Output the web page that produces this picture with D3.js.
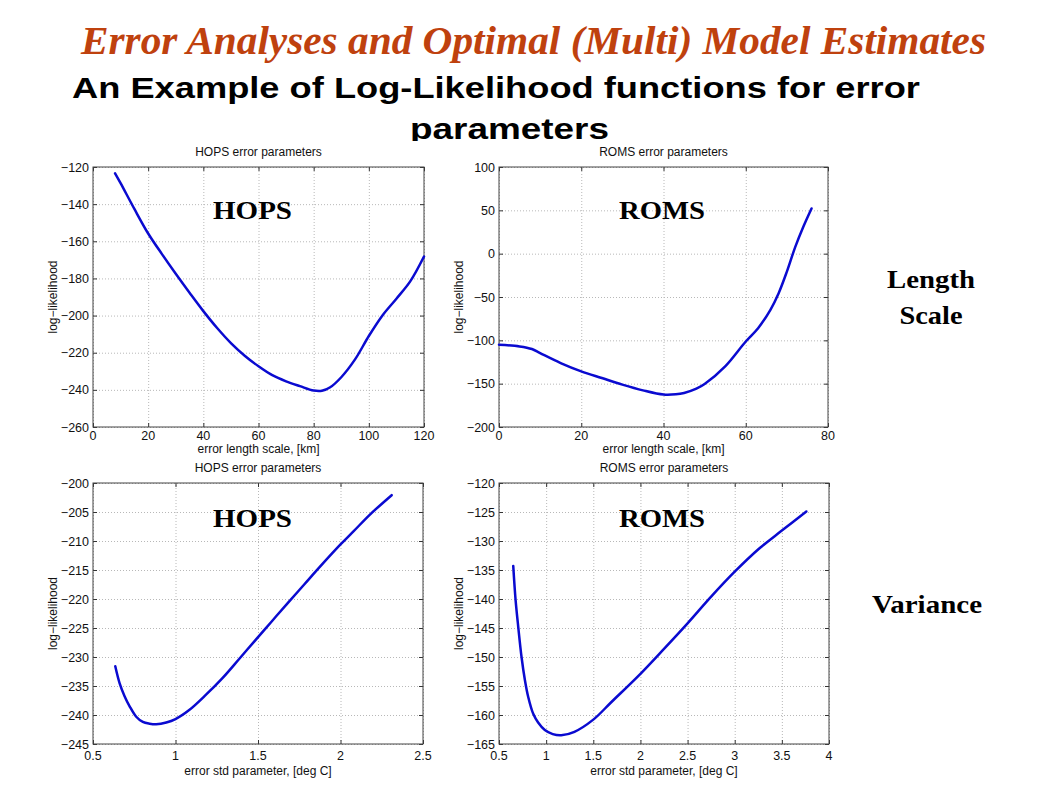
<!DOCTYPE html>
<html>
<head>
<meta charset="utf-8">
<script src="https://cdn.jsdelivr.net/npm/d3@7"></script>
<style>
  html, body { margin: 0; padding: 0; background: #fff; }
  svg { display: block; }
</style>
</head>
<body>
<svg id="chart" width="1058" height="794"></svg>
<script>
// ---------------- DATA ----------------
const hopsLenX = [8, 10, 15, 20, 25, 30, 35, 40, 45, 50, 55, 60, 65, 70, 75, 80, 83, 86, 90, 95, 100, 105, 110, 115, 120];
const hopsLenY = [-123.4, -128.7, -142.6, -155.8, -166.9, -177.5, -187.7, -197.6, -206.7, -214.8, -221.6, -227.3, -232.1, -235.4, -238, -240.4, -240.5, -238.6, -233.2, -223.6, -211.0, -199.8, -190.9, -181.6, -168.2];

const romsLenX = [0, 5, 8, 10, 15, 20, 25, 30, 35, 40, 43, 45, 48, 50, 55, 60, 63, 66, 68, 70, 72, 74, 76];
const romsLenY = [-105.1, -107, -110, -114.7, -126.2, -135.8, -143.5, -151.1, -157.7, -162.6, -162.3, -160.7, -155.7, -150.4, -130, -101.3, -86, -64.8, -45.6, -20.7, 7.3, 31.1, 52.2];

const hopsVarX = [0.635, 0.661, 0.692, 0.722, 0.762, 0.802, 0.843, 0.883, 0.944, 1.0, 1.085, 1.185, 1.286, 1.387, 1.478, 1.579, 1.68, 1.78, 1.88, 2.0, 2.08, 2.18, 2.31];
const hopsVarY = [-231.6, -234.5, -236.8, -238.5, -240.3, -241.2, -241.5, -241.6, -241.3, -240.7, -239.1, -236.5, -233.6, -230.3, -227.3, -224.0, -220.7, -217.5, -214.3, -210.6, -208.3, -205.4, -202.1];

const romsVarX = [0.651, 0.676, 0.704, 0.739, 0.775, 0.81, 0.863, 0.915, 0.986, 1.07, 1.16, 1.30, 1.5, 1.69, 2.0, 2.25, 2.5, 2.75, 3.0, 3.26, 3.5, 3.76];
const romsVarY = [-134.3, -140.2, -144.8, -150, -154, -156.9, -159.8, -161.3, -162.6, -163.3, -163.5, -162.9, -160.8, -157.8, -152.9, -148.6, -144.2, -139.6, -135.3, -131.3, -128.2, -124.9];

const hopsLenXTicks = [0, 20, 40, 60, 80, 100, 120];
const hopsLenYTicks = [-260, -240, -220, -200, -180, -160, -140, -120];
const romsLenXTicks = [0, 20, 40, 60, 80];
const romsLenYTicks = [-200, -150, -100, -50, 0, 50, 100];
const hopsVarXTicks = [0.5, 1, 1.5, 2, 2.5];
const hopsVarYTicks = [-245, -240, -235, -230, -225, -220, -215, -210, -205, -200];
const romsVarXTicks = [0.5, 1, 1.5, 2, 2.5, 3, 3.5, 4];
const romsVarYTicks = [-165, -160, -155, -150, -145, -140, -135, -130, -125, -120];

const panelTitles = ["HOPS error parameters", "ROMS error parameters", "HOPS error parameters", "ROMS error parameters"];
const modelLabels = ["HOPS", "ROMS", "HOPS", "ROMS"];
const xLabels = ["error length scale, [km]", "error length scale, [km]", "error std parameter, [deg C]", "error std parameter, [deg C]"];
const yLabel = "log\u2212likelihood";

const mainTitle = "Error Analyses and Optimal (Multi) Model Estimates";
const subTitle1 = "An Example of Log-Likelihood functions for error";
const subTitle2 = "parameters";
const rowLabels = [["Length", "Scale"], ["Variance"]];

// ---------------- LAYOUT ----------------
const panels = [
  { x: hopsLenX, y: hopsLenY, xt: hopsLenXTicks, yt: hopsLenYTicks, box: [93, 167, 424, 427], tickOff: 13, labOff: 26 },
  { x: romsLenX, y: romsLenY, xt: romsLenXTicks, yt: romsLenYTicks, box: [499, 167, 828, 427], tickOff: 13, labOff: 26 },
  { x: hopsVarX, y: hopsVarY, xt: hopsVarXTicks, yt: hopsVarYTicks, box: [93, 483, 423, 744], tickOff: 16, labOff: 31 },
  { x: romsVarX, y: romsVarY, xt: romsVarXTicks, yt: romsVarYTicks, box: [499, 483, 829, 744], tickOff: 16, labOff: 31 }
];

const svg = d3.select("#chart");
const fmt = v => String(v).replace("-", "\u2212");

// Headings
svg.append("text")
  .attr("x", 81).attr("y", 54)
  .attr("textLength", 905).attr("lengthAdjust", "spacingAndGlyphs")
  .style("font-family", "'Liberation Serif', 'Times New Roman', serif")
  .style("font-weight", "bold").style("font-style", "italic")
  .style("font-size", "39px").style("fill", "#bf410e")
  .text(mainTitle);

svg.append("text")
  .attr("x", 72).attr("y", 98)
  .attr("textLength", 848).attr("lengthAdjust", "spacingAndGlyphs")
  .style("font-family", "'Liberation Sans', Arial, sans-serif")
  .style("font-weight", "bold").style("font-size", "30px").style("fill", "#000")
  .text(subTitle1);

svg.append("text")
  .attr("x", 410).attr("y", 139)
  .attr("textLength", 199).attr("lengthAdjust", "spacingAndGlyphs")
  .style("font-family", "'Liberation Sans', Arial, sans-serif")
  .style("font-weight", "bold").style("font-size", "30px").style("fill", "#000")
  .text(subTitle2);

// white band that clips the bottom of "parameters" as in the slide
svg.append("rect").attr("x", 380).attr("y", 141).attr("width", 260).attr("height", 10).attr("fill", "#fff");

// Row labels
const serif = "'Liberation Serif', 'Times New Roman', serif";
svg.append("text").attr("x", 931).attr("y", 288).attr("text-anchor", "middle")
  .attr("textLength", 88).attr("lengthAdjust", "spacingAndGlyphs")
  .style("font-family", serif).style("font-weight", "bold").style("font-size", "26px").text(rowLabels[0][0]);
svg.append("text").attr("x", 931).attr("y", 324).attr("text-anchor", "middle")
  .attr("textLength", 63).attr("lengthAdjust", "spacingAndGlyphs")
  .style("font-family", serif).style("font-weight", "bold").style("font-size", "26px").text(rowLabels[0][1]);
svg.append("text").attr("x", 927).attr("y", 613).attr("text-anchor", "middle")
  .attr("textLength", 110).attr("lengthAdjust", "spacingAndGlyphs")
  .style("font-family", serif).style("font-weight", "bold").style("font-size", "26px").text(rowLabels[1][0]);

const sans = "'Liberation Sans', Arial, Helvetica, sans-serif";

panels.forEach((p, i) => {
  const [x0, y0, x1, y1] = p.box;
  const xs = d3.scaleLinear().domain([p.xt[0], p.xt[p.xt.length - 1]]).range([x0, x1]);
  const ys = d3.scaleLinear().domain([p.yt[0], p.yt[p.yt.length - 1]]).range([y1, y0]);
  const g = svg.append("g");

  g.append("rect").attr("x", x0).attr("y", y0).attr("width", x1 - x0).attr("height", y1 - y0).attr("fill", "#fff");

  // grid
  const gx = g.append("g").attr("transform", `translate(0,${y1})`)
    .call(d3.axisBottom(xs).tickValues(p.xt).tickSize(-(y1 - y0)).tickFormat(""));
  const gy = g.append("g").attr("transform", `translate(${x0},0)`)
    .call(d3.axisLeft(ys).tickValues(p.yt).tickSize(-(x1 - x0)).tickFormat(""));
  [gx, gy].forEach(a => {
    a.select(".domain").remove();
    a.selectAll(".tick line").attr("stroke", "#b8b8b8").attr("stroke-dasharray", "1,2").attr("stroke-width", 1);
  });

  // inward ticks on all sides
  const tl = 4;
  const axB = g.append("g").attr("transform", `translate(0,${y1})`).call(d3.axisBottom(xs).tickValues(p.xt).tickSize(-tl).tickFormat(""));
  const axT = g.append("g").attr("transform", `translate(0,${y0})`).call(d3.axisTop(xs).tickValues(p.xt).tickSize(-tl).tickFormat(""));
  const axL = g.append("g").attr("transform", `translate(${x0},0)`).call(d3.axisLeft(ys).tickValues(p.yt).tickSize(-tl).tickFormat(""));
  const axR = g.append("g").attr("transform", `translate(${x1},0)`).call(d3.axisRight(ys).tickValues(p.yt).tickSize(-tl).tickFormat(""));
  [axB, axT, axL, axR].forEach(a => {
    a.select(".domain").remove();
    a.selectAll(".tick line").attr("stroke", "#333");
  });

  // frame
  g.append("rect").attr("x", x0).attr("y", y0).attr("width", x1 - x0).attr("height", y1 - y0)
    .attr("fill", "none").attr("stroke", "#444").attr("stroke-width", 1);

  // tick labels
  g.selectAll(null).data(p.xt).enter().append("text")
    .attr("x", d => xs(d)).attr("y", y1 + p.tickOff).attr("text-anchor", "middle")
    .style("font-family", sans).style("font-size", "12.5px").style("fill", "#111")
    .text(d => fmt(d));
  g.selectAll(null).data(p.yt).enter().append("text")
    .attr("x", x0 - 4).attr("y", d => ys(d)).attr("dy", "0.36em").attr("text-anchor", "end")
    .style("font-family", sans).style("font-size", "12.5px").style("fill", "#111")
    .text(d => fmt(d));

  // axis labels & title
  g.append("text").attr("x", (x0 + x1) / 2).attr("y", y1 + p.labOff).attr("text-anchor", "middle")
    .style("font-family", sans).style("font-size", "12px").style("fill", "#111").text(xLabels[i]);
  g.append("text").attr("transform", `translate(${x0 - 36},${(y0 + y1) / 2}) rotate(-90)`).attr("text-anchor", "middle")
    .style("font-family", sans).style("font-size", "12px").style("fill", "#111").text(yLabel);
  g.append("text").attr("x", (x0 + x1) / 2).attr("y", y0 - 11).attr("text-anchor", "middle")
    .style("font-family", sans).style("font-size", "12px").style("fill", "#111").text(panelTitles[i]);

  // curve
  const pts = p.x.map((v, k) => [v, p.y[k]]);
  g.append("path").datum(pts)
    .attr("d", d3.line().x(d => xs(d[0])).y(d => ys(d[1])).curve(d3.curveCatmullRom.alpha(0.5)))
    .attr("fill", "none").attr("stroke", "#0a0ad0").attr("stroke-width", 2.5)
    .attr("stroke-linejoin", "round").attr("stroke-linecap", "round");

  // model label
  const lx = i % 2 === 0 ? 213 : 619;
  const lw = i % 2 === 0 ? 79 : 86;
  const ly = i < 2 ? 219 : 527;
  g.append("text").attr("x", lx).attr("y", ly)
    .attr("textLength", lw).attr("lengthAdjust", "spacingAndGlyphs")
    .style("font-family", serif).style("font-weight", "bold").style("font-size", "25px").style("fill", "#000")
    .text(modelLabels[i]);
});
</script>
</body>
</html>
